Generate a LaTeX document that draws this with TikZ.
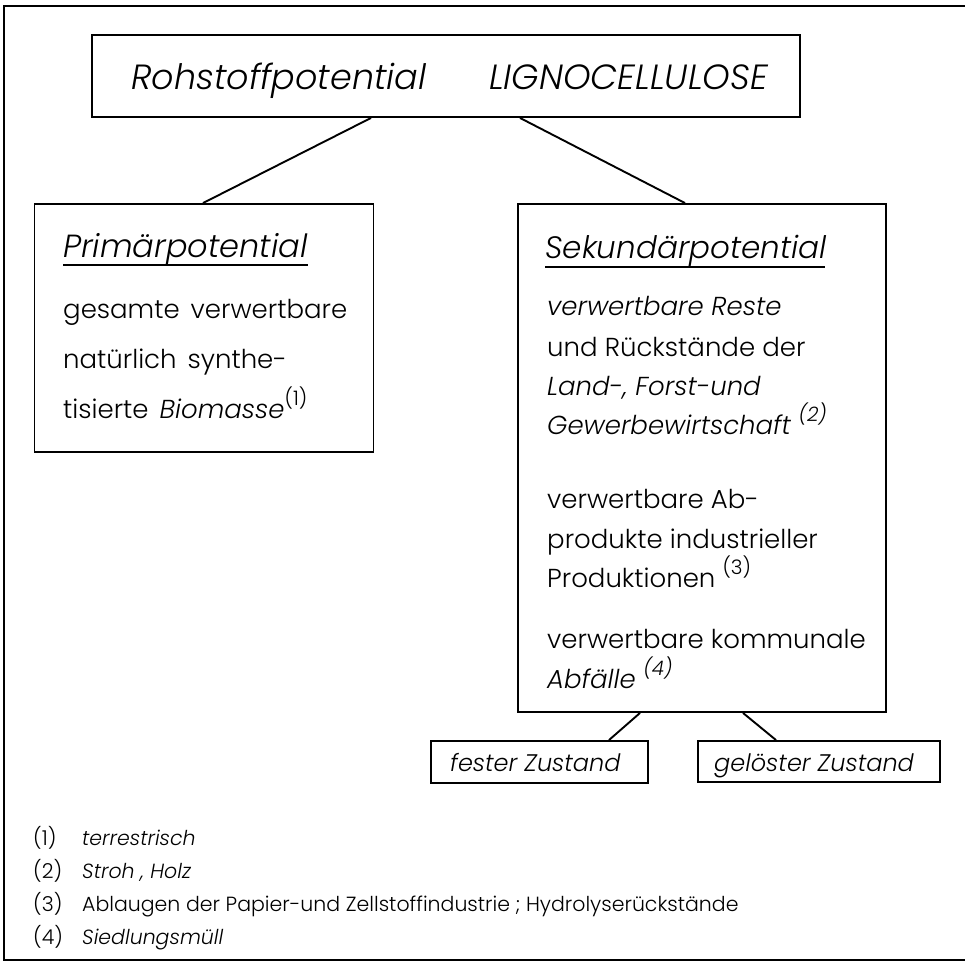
\documentclass[tikz,border=0pt]{standalone}
\usepackage{fontspec}
\newfontfamily\hand{Poppins Light}[ItalicFont={Poppins Light Italic}]
\tikzset{
  box/.style={draw, line width=1.9pt, rectangle, inner sep=0pt},
  conn/.style={line width=1.9pt},
  txt/.style={anchor=base west, inner sep=0pt, font=\hand},
  big/.style={txt, font=\hand\fontsize{35}{40}\selectfont\itshape},
  ttl/.style={txt, font=\hand\fontsize{32}{38}\selectfont\itshape},
  ttlb/.style={txt, font=\hand\fontsize{31}{38}\selectfont\itshape},
  bdy/.style={txt, font=\hand\fontsize{26}{30}\selectfont},
  sm/.style={txt, font=\hand\fontsize{24}{28}\selectfont},
  fn/.style={txt, font=\hand\fontsize{20.5}{25}\selectfont},
}
\newcommand{\fnm}[1]{\raisebox{0.5em}{\fontsize{20}{22}\selectfont(#1)}}
\newcommand{\fnlab}[1]{\makebox[49pt][l]{(#1)}}
\begin{document}
\begin{tikzpicture}[x=1pt,y=-1pt]
\useasboundingbox (0,0) rectangle (965,963);
% frame
\draw[line width=1.9pt] (965,6) -- (4,6) -- (4,960) -- (965,960);
% boxes
\node[box, minimum width=708pt, minimum height=82pt] (top) at (446,76) {};
\node[box, minimum width=339pt, minimum height=248pt] (prim) at (204,328) {};
\node[box, minimum width=368pt, minimum height=508pt] (sek) at (702,458) {};
\node[box, minimum width=217pt, minimum height=42pt] (fest) at (539.5,762) {};
\node[box, minimum width=242pt, minimum height=41pt] (gel) at (819,761.5) {};
% connectors
\draw[conn] (371,0 |- top.south) -- (203,0 |- prim.north);
\draw[conn] (520,0 |- top.south) -- (685,0 |- sek.north);
\draw[conn] (640,0 |- sek.south) -- (609,0 |- fest.north);
\draw[conn] (743,0 |- sek.south) -- (776,0 |- gel.north);
% top text
\node[big] (t1) at (131,90) {Rohstoffpotential};
\node[big] (t2) at (489,90) {LIGNOCELLULOSE};
% primaer
\node[ttl] (p0) at (63,257) {Primärpotential};
\draw[line width=1.9pt] (63,265) -- (308,265);
\node[bdy] (p1) at (63,318) {gesamte\hspace{0.15em} verwertbare};
\node[bdy] (p2) at (63,368) {natürlich\hspace{0.15em} synthe-};
\node[bdy] (p3) at (63,418) {tisierte\hspace{0.15em} \textit{Biomasse}\fnm{1}};
% sekundaer
\node[ttlb] (s0) at (545,258) {Sekundärpotential};
\draw[line width=1.9pt] (545,267) -- (825,267);
\node[bdy] (s1) at (547,315) {\itshape verwertbare Reste};
\node[bdy] (s2) at (547,356) {und Rückstände der};
\node[bdy] (s3) at (547,395) {\itshape Land-, Forst-und};
\node[bdy] (s4) at (547,434) {\itshape Gewerbewirtschaft \fnm{2}};
\node[bdy] (s5) at (547,508) {verwertbare Ab-};
\node[bdy] (s6) at (547,548) {produkte industrieller};
\node[bdy] (s7) at (547,587) {Produktionen \fnm{3}};
\node[bdy] (s8) at (547,648) {verwertbare kommunale};
\node[bdy] (s9) at (547,688) {\itshape Abfälle \fnm{4}};
% states
\node[sm] (f1) at (450,771) {\itshape fester Zustand};
\node[sm] (g1) at (714,771) {\itshape gelöster Zustand};
% footnotes
\node[fn] (n1) at (33,845) {\fnlab{1}\itshape terrestrisch};
\node[fn] (n2) at (33,878) {\fnlab{2}\itshape Stroh , Holz};
\node[fn] (n3) at (33,911) {\fnlab{3}Ablaugen der Papier-und Zellstoffindustrie ; Hydrolyserückstände};
\node[fn] (n4) at (33,944) {\fnlab{4}\itshape Siedlungsmüll};
\end{tikzpicture}
\end{document}
